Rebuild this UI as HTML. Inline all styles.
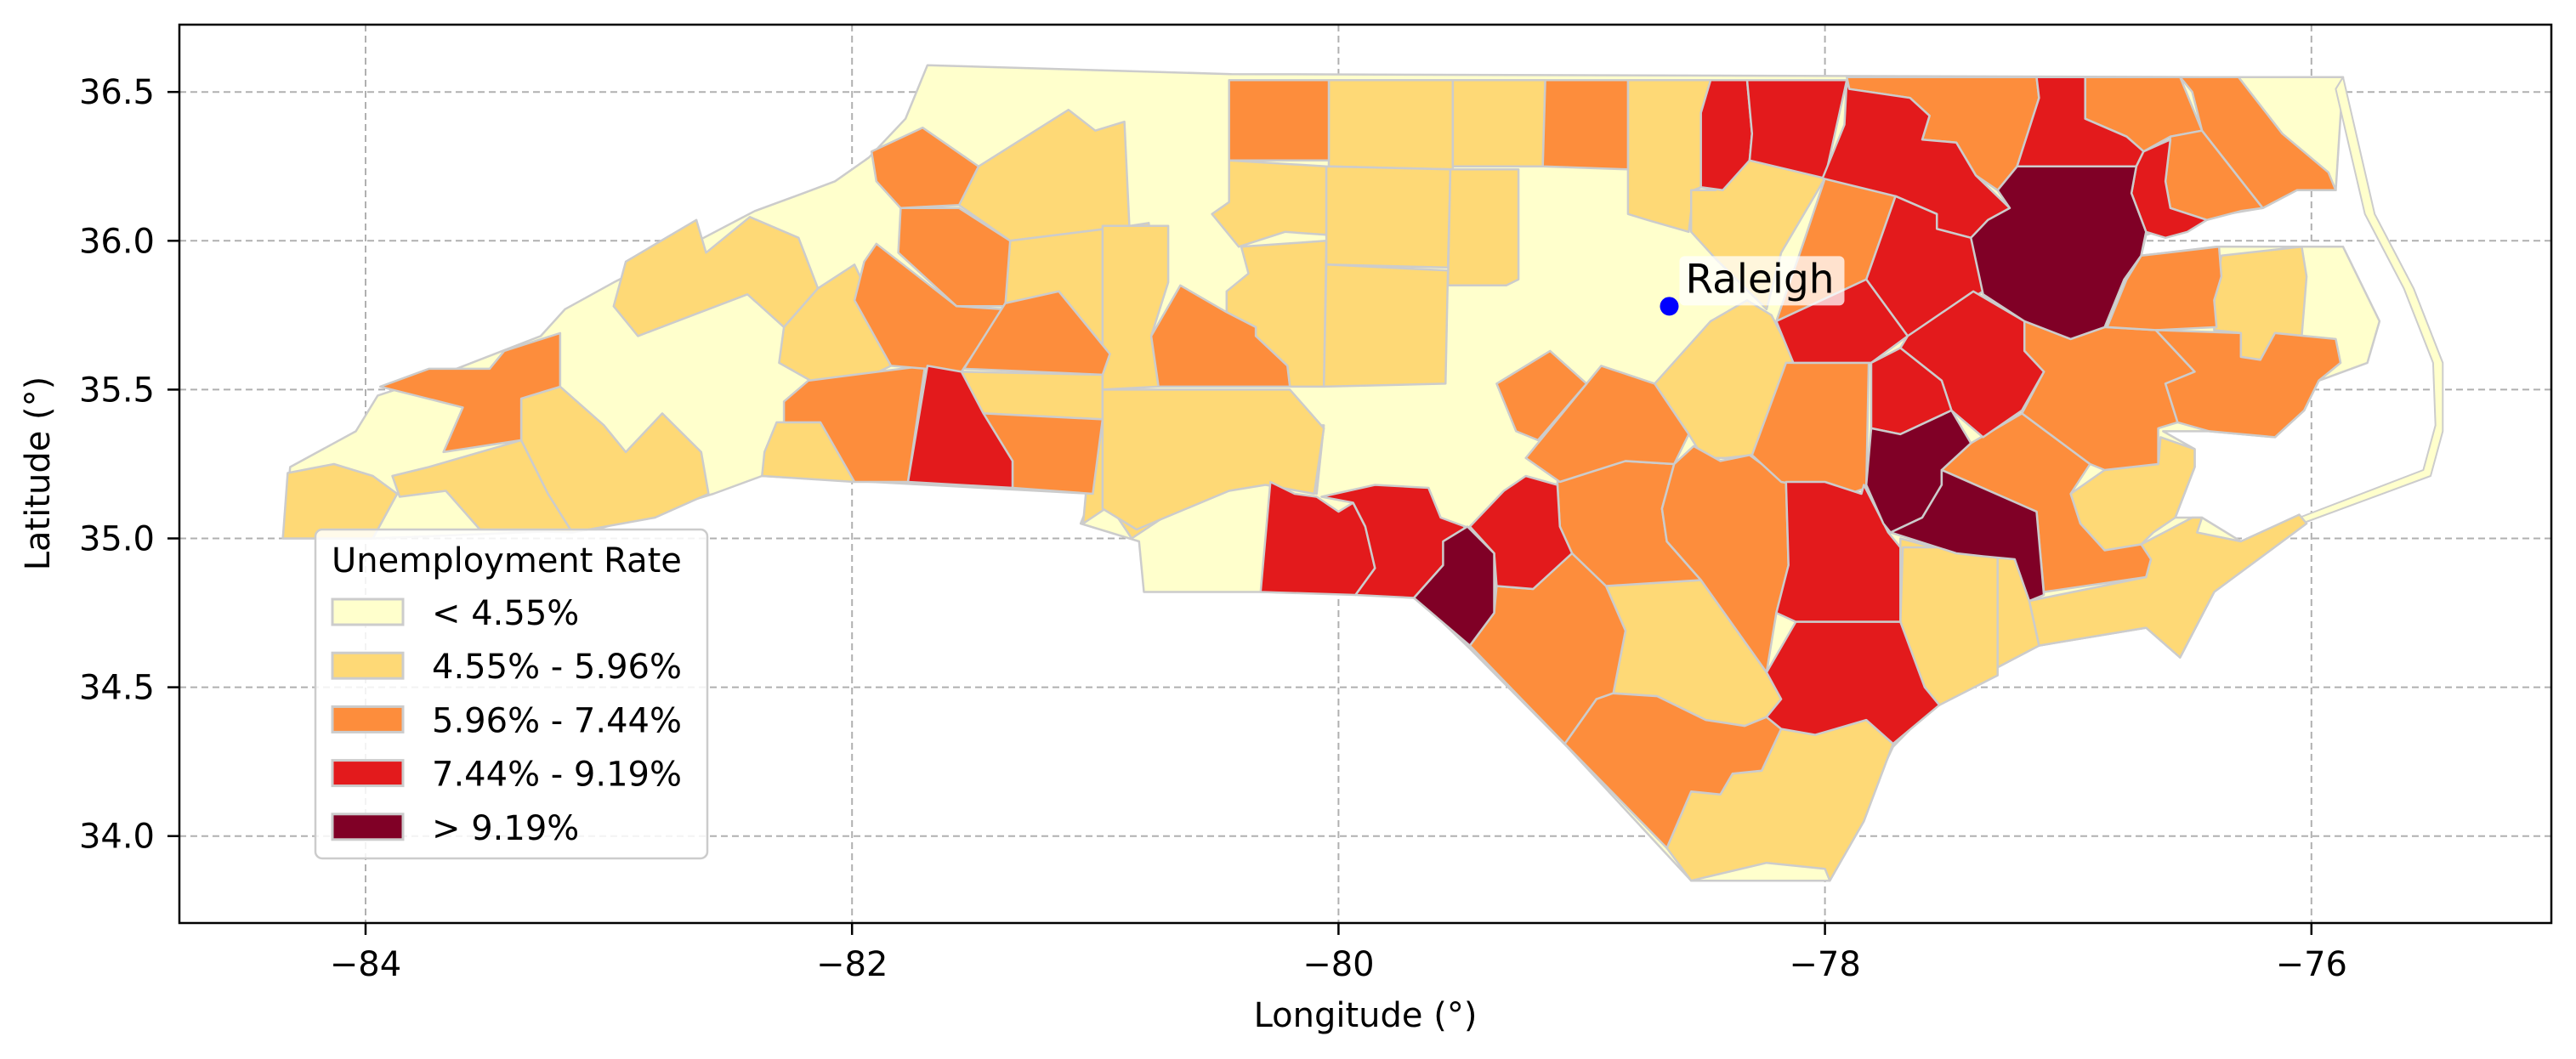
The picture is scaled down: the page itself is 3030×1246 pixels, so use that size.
<!DOCTYPE html>
<html><head><meta charset="utf-8"><style>
html,body{margin:0;padding:0;background:#fff;}
svg{display:block;font-family:"DejaVu Sans","Liberation Sans",sans-serif;}
</style></head><body>
<svg id="chart" width="3030" height="1246" viewBox="0 0 3030 1246" xmlns="http://www.w3.org/2000/svg">
<rect x="0" y="0" width="3030" height="1246" fill="#fff"/>
<g id="grid"></g>
<g id="map"></g>
<g id="overlay"></g>
<rect x="211" y="29" width="2790" height="1057" fill="none" stroke="#000" stroke-width="2.5"/>
<g id="ticks"></g>
<text x="1606" y="1208" font-size="40" text-anchor="middle">Longitude (°)</text>
<text transform="translate(58,557) rotate(-90)" font-size="40" text-anchor="middle">Latitude (°)</text>
<g id="legend"></g>
</svg>
<script>
// ---- data ----
const xTicks = [-84, -82, -80, -78, -76];
const yTicks = [34.0, 34.5, 35.0, 35.5, 36.0, 36.5];
const thresholds = [4.55, 5.96, 7.44, 9.19];
const legendLabels = ["< 4.55%", "4.55% - 5.96%", "5.96% - 7.44%", "7.44% - 9.19%", "> 9.19%"];
const classColors = ["#ffffcc", "#fed976", "#fd8d3c", "#e31a1c", "#800026"];
const cityName = "Raleigh";
const cityLonLat = [-78.64, 35.78];
const stateOutline = [-84.34,35.00,-84.31,35.24,-84.04,35.36,-83.95,35.48,-83.69,35.55,-83.28,35.68,-83.18,35.77,-82.98,35.86,-82.81,35.93,-82.61,36.01,-82.40,36.10,-82.20,36.16,-82.07,36.20,-81.93,36.28,-81.78,36.41,-81.69,36.59,-80.44,36.56,-76.45,36.55,-75.87,36.55,-75.90,36.17,-76.06,36.17,-76.20,36.11,-76.42,36.08,-76.68,36.02,-76.70,35.95,-76.39,35.98,-76.04,35.98,-75.87,35.98,-75.72,35.73,-75.77,35.59,-75.97,35.53,-76.03,35.43,-76.15,35.34,-76.42,35.36,-76.61,35.36,-76.48,35.30,-76.48,35.24,-76.56,35.07,-76.45,35.07,-76.29,34.99,-76.40,34.82,-76.54,34.60,-76.68,34.70,-77.12,34.64,-77.33,34.55,-77.54,34.45,-77.72,34.30,-77.98,33.85,-78.55,33.85,-79.06,34.30,-79.46,34.63,-79.69,34.81,-80.32,34.82,-80.80,34.82,-80.82,34.99,-81.06,35.05,-81.01,35.15,-82.37,35.21,-82.57,35.15,-83.05,35.03,-83.97,35.00];
const outerBanks = [-75.87,36.55,-75.74,36.09,-75.58,35.84,-75.46,35.59,-75.46,35.36,-75.51,35.21,-76.04,35.05,-76.05,35.07,-75.54,35.23,-75.49,35.38,-75.50,35.59,-75.62,35.84,-75.78,36.09,-75.90,36.51];
// county unemployment rates (%) and boundaries (lon,lat pairs)
const countyRates = [
5.2,5.2,6.7,5.2,5.2,5.2,5.2,6.7,8.3,5.2,6.7,6.7,6.7,6.7,6.7,5.2,5.2,
6.7,5.2,5.2,6.7,5.2,8.3,8.3,8.3,6.7,8.3,10.2,8.3,6.7,6.7,6.7,
6.7,8.3,8.3,8.3,8.3,10.2,10.2,6.7,6.7,6.7,5.2,6.7,5.2,5.2,5.2,5.2,
8.3,8.3,5.2,6.7,5.2,6.7,6.7,6.7,6.7,5.2,6.7,6.7,8.3,8.3,10.2,8.3,
5.2,5.2,5.2,5.2,5.2,5.2,5.2,5.2,5.2,5.2
];
const countyShapes = [
[-84.34,35.00,-84.32,35.22,-84.13,35.25,-83.97,35.21,-83.87,35.15,-83.97,35.00],
[-83.74,35.24,-83.36,35.33,-83.25,35.15,-83.15,35.02,-83.53,35.03,-83.67,35.16,-83.86,35.14,-83.89,35.21],
[-83.94,35.51,-83.74,35.57,-83.49,35.57,-83.43,35.63,-83.20,35.69,-83.20,35.51,-83.36,35.47,-83.36,35.33,-83.68,35.29,-83.60,35.44],
[-83.36,35.47,-83.20,35.51,-83.02,35.38,-82.93,35.29,-82.78,35.42,-82.62,35.29,-82.59,35.15,-82.81,35.07,-83.15,35.02,-83.25,35.15,-83.36,35.33],
[-82.98,35.78,-82.93,35.93,-82.64,36.07,-82.60,35.96,-82.42,36.08,-82.22,36.01,-82.14,35.84,-82.28,35.71,-82.43,35.82,-82.88,35.68],
[-82.28,35.71,-82.14,35.84,-81.99,35.92,-81.88,35.73,-81.84,35.58,-81.99,35.52,-82.17,35.53,-82.30,35.59],
[-82.31,35.39,-82.13,35.39,-81.99,35.25,-81.99,35.19,-82.37,35.21,-82.36,35.29],
[-82.28,35.46,-82.18,35.53,-81.99,35.55,-81.70,35.58,-81.77,35.19,-81.99,35.19,-82.13,35.39,-82.28,35.39],
[-81.69,35.58,-81.55,35.56,-81.46,35.42,-81.34,35.26,-81.34,35.17,-81.77,35.19],
[-81.55,35.56,-80.97,35.55,-80.97,35.40,-81.46,35.42],
[-81.46,35.42,-80.97,35.40,-81.01,35.15,-81.34,35.17,-81.34,35.26],
[-81.90,35.99,-81.57,35.78,-81.38,35.77,-81.55,35.56,-81.84,35.58,-81.99,35.80,-81.95,35.93],
[-81.80,36.11,-81.56,36.11,-81.35,36.00,-81.37,35.78,-81.57,35.78,-81.81,35.96],
[-81.92,36.30,-81.71,36.38,-81.48,36.25,-81.56,36.12,-81.80,36.11,-81.90,36.20],
[-81.37,35.79,-81.15,35.83,-80.94,35.62,-80.97,35.55,-81.54,35.57],
[-81.48,36.25,-81.11,36.44,-81.00,36.37,-80.88,36.40,-80.86,36.05,-81.35,36.00,-81.56,36.12],
[-81.35,36.00,-80.86,36.05,-80.78,36.06,-80.75,35.87,-80.85,35.59,-80.94,35.62,-81.15,35.83,-81.37,35.79],
[-80.45,36.54,-80.04,36.54,-80.04,36.27,-80.45,36.27],
[-80.04,36.54,-79.53,36.54,-79.53,36.24,-80.04,36.25],
[-79.53,36.54,-79.15,36.54,-79.16,36.25,-79.53,36.25],
[-79.15,36.54,-78.81,36.54,-78.81,36.24,-79.16,36.25],
[-78.81,36.54,-78.47,36.54,-78.51,36.43,-78.51,36.18,-78.54,36.17,-78.56,36.03,-78.73,36.07,-78.81,36.09],
[-78.47,36.54,-78.32,36.54,-78.30,36.36,-78.31,36.27,-78.42,36.17,-78.51,36.18,-78.51,36.43],
[-78.32,36.54,-77.91,36.54,-78.00,36.21,-78.31,36.27,-78.30,36.36],
[-77.91,36.54,-77.90,36.51,-77.65,36.48,-77.57,36.42,-77.60,36.34,-77.46,36.33,-77.38,36.22,-77.24,36.11,-77.33,36.07,-77.40,36.01,-77.54,36.04,-77.54,36.09,-77.71,36.15,-78.01,36.21,-77.92,36.39],
[-77.91,36.55,-77.13,36.55,-77.12,36.48,-77.21,36.25,-77.29,36.17,-77.38,36.22,-77.46,36.33,-77.60,36.34,-77.57,36.42,-77.65,36.48,-77.90,36.51],
[-77.13,36.55,-76.93,36.55,-76.93,36.41,-76.76,36.35,-76.69,36.30,-76.72,36.25,-77.21,36.25,-77.12,36.48],
[-77.21,36.25,-76.72,36.25,-76.74,36.16,-76.68,36.03,-76.70,35.95,-76.77,35.87,-76.85,35.71,-76.99,35.67,-77.18,35.73,-77.35,35.82,-77.40,36.01,-77.33,36.07,-77.24,36.11,-77.29,36.17],
[-76.69,36.30,-76.58,36.34,-76.60,36.20,-76.58,36.11,-76.43,36.07,-76.51,36.03,-76.60,36.01,-76.68,36.03,-76.74,36.16,-76.72,36.25],
[-76.93,36.55,-76.54,36.55,-76.45,36.37,-76.58,36.35,-76.69,36.30,-76.76,36.35,-76.93,36.41],
[-76.58,36.35,-76.45,36.37,-76.20,36.11,-76.29,36.10,-76.43,36.07,-76.58,36.11,-76.60,36.20],
[-76.54,36.55,-76.30,36.55,-76.12,36.36,-75.93,36.23,-75.90,36.17,-76.06,36.17,-76.20,36.11,-76.45,36.37,-76.49,36.50],
[-78.00,36.21,-77.71,36.15,-77.83,35.87,-78.20,35.73,-78.09,35.99],
[-77.71,36.15,-77.54,36.09,-77.54,36.04,-77.40,36.01,-77.35,35.93,-77.35,35.83,-77.66,35.68,-77.83,35.87],
[-77.83,35.87,-77.66,35.68,-77.81,35.59,-78.13,35.59,-78.20,35.73],
[-77.66,35.68,-77.39,35.83,-77.18,35.73,-77.18,35.63,-77.10,35.56,-77.19,35.43,-77.35,35.34,-77.48,35.43,-77.52,35.53,-77.69,35.64],
[-77.81,35.59,-77.69,35.64,-77.52,35.53,-77.48,35.43,-77.69,35.35,-77.81,35.37],
[-77.81,35.37,-77.69,35.35,-77.48,35.43,-77.40,35.32,-77.52,35.23,-77.52,35.18,-77.60,35.07,-77.73,35.02,-77.76,35.05,-77.83,35.18],
[-77.52,35.23,-77.13,35.09,-77.10,34.81,-77.16,34.79,-77.22,34.93,-77.35,34.94,-77.46,34.95,-77.73,35.02,-77.60,35.07,-77.52,35.18],
[-77.40,35.32,-77.19,35.42,-76.91,35.25,-76.99,35.15,-76.95,35.05,-76.85,34.96,-76.70,34.98,-76.66,34.93,-76.68,34.87,-77.10,34.82,-77.13,35.09,-77.52,35.23],
[-77.18,35.73,-76.99,35.67,-76.85,35.71,-76.64,35.70,-76.48,35.56,-76.60,35.52,-76.55,35.39,-76.63,35.37,-76.63,35.25,-76.85,35.23,-76.91,35.25,-77.19,35.42,-77.10,35.56,-77.18,35.63],
[-76.84,35.71,-76.76,35.87,-76.70,35.95,-76.38,35.98,-76.37,35.88,-76.40,35.80,-76.39,35.71,-76.64,35.70],
[-76.37,35.95,-76.04,35.98,-76.02,35.88,-76.04,35.68,-76.15,35.69,-76.21,35.60,-76.29,35.61,-76.29,35.69,-76.40,35.70,-76.40,35.80],
[-76.64,35.70,-76.29,35.69,-76.29,35.61,-76.21,35.60,-76.15,35.69,-75.90,35.67,-75.88,35.59,-75.97,35.53,-76.03,35.43,-76.15,35.34,-76.42,35.36,-76.55,35.39,-76.60,35.52,-76.48,35.56],
[-76.99,35.15,-76.85,35.23,-76.63,35.25,-76.62,35.34,-76.48,35.30,-76.48,35.24,-76.56,35.07,-76.65,35.02,-76.70,34.98,-76.85,34.96,-76.95,35.05],
[-77.16,34.79,-76.68,34.87,-76.66,34.93,-76.70,34.98,-76.49,35.07,-76.45,35.07,-76.47,35.02,-76.29,34.99,-76.05,35.08,-76.02,35.05,-76.40,34.82,-76.54,34.60,-76.68,34.70,-77.12,34.64],
[-77.69,35.00,-77.46,34.95,-77.35,34.94,-77.22,34.93,-77.16,34.79,-77.12,34.64,-77.33,34.55,-77.54,34.45,-77.63,34.64,-77.69,34.73],
[-77.68,34.97,-77.29,34.97,-77.29,34.54,-77.53,34.44,-77.59,34.50,-77.69,34.72],
[-78.16,35.19,-78.00,35.19,-77.85,35.15,-77.84,35.18,-77.74,35.02,-77.69,34.97,-77.69,34.72,-78.12,34.72,-78.20,34.75,-78.15,34.91],
[-78.12,34.72,-77.69,34.72,-77.59,34.50,-77.53,34.44,-77.72,34.31,-77.83,34.39,-78.04,34.34,-78.18,34.36,-78.24,34.40,-78.18,34.46,-78.24,34.55],
[-78.18,34.36,-78.04,34.34,-77.83,34.39,-77.72,34.31,-77.84,34.05,-77.98,33.85,-78.00,33.89,-78.24,33.91,-78.55,33.85,-78.65,33.96,-78.55,34.15,-78.43,34.14,-78.38,34.21,-78.26,34.22],
[-79.07,34.31,-78.94,34.46,-78.88,34.48,-78.69,34.47,-78.49,34.39,-78.33,34.37,-78.24,34.40,-78.18,34.36,-78.26,34.22,-78.38,34.21,-78.43,34.14,-78.55,34.15,-78.65,33.96],
[-78.90,34.84,-78.51,34.86,-78.24,34.55,-78.18,34.46,-78.24,34.40,-78.33,34.37,-78.49,34.39,-78.69,34.47,-78.87,34.48,-78.82,34.69],
[-79.46,34.64,-79.36,34.75,-79.35,34.84,-79.20,34.83,-79.04,34.95,-78.90,34.84,-78.82,34.69,-78.87,34.48,-78.94,34.46,-79.07,34.31],
[-79.10,35.19,-78.83,35.26,-78.62,35.25,-78.67,35.10,-78.65,34.99,-78.51,34.86,-78.90,34.84,-79.04,34.95,-79.09,35.04],
[-78.62,35.25,-78.54,35.31,-78.43,35.26,-78.31,35.28,-78.16,35.19,-78.15,34.91,-78.20,34.75,-78.24,34.55,-78.51,34.86,-78.65,34.99,-78.67,35.10],
[-78.30,35.28,-78.16,35.59,-77.82,35.59,-77.83,35.17,-77.90,35.15,-78.18,35.19],
[-78.70,35.52,-78.47,35.73,-78.32,35.80,-78.22,35.75,-78.12,35.59,-78.16,35.35,-78.30,35.28,-78.41,35.27,-78.50,35.27,-78.56,35.35],
[-79.23,35.27,-78.98,35.52,-78.92,35.58,-78.70,35.52,-78.56,35.35,-78.62,35.25,-78.82,35.26,-79.09,35.19],
[-79.35,35.52,-79.13,35.63,-78.98,35.52,-79.18,35.33,-79.27,35.36],
[-80.32,34.82,-80.28,35.19,-80.18,35.15,-80.09,35.14,-80.00,35.09,-79.94,35.12,-79.89,35.04,-79.85,34.90,-79.93,34.81],
[-79.93,34.81,-79.85,34.90,-79.89,35.04,-79.94,35.12,-80.07,35.14,-79.85,35.18,-79.63,35.17,-79.58,35.07,-79.48,35.04,-79.57,34.91,-79.69,34.80],
[-79.69,34.80,-79.57,34.91,-79.57,34.99,-79.47,35.04,-79.36,34.95,-79.36,34.75,-79.46,34.64],
[-79.46,35.04,-79.32,35.16,-79.23,35.21,-79.10,35.18,-79.09,35.04,-79.04,34.95,-79.20,34.83,-79.35,34.84,-79.36,34.95],
[-81.04,35.14,-81.02,35.38,-80.40,35.38,-80.50,35.19,-80.85,35.00,-80.94,35.11,-81.05,35.05],
[-80.50,35.19,-80.40,35.38,-80.06,35.38,-80.09,35.15,-80.28,35.19,-80.47,35.16],
[-80.97,35.50,-80.20,35.50,-80.06,35.37,-80.10,35.15,-80.30,35.18,-80.45,35.16,-80.83,35.03,-80.97,35.10],
[-80.97,36.05,-80.70,36.05,-80.70,35.86,-80.77,35.68,-80.74,35.51,-80.97,35.50],
[-80.45,36.27,-80.05,36.25,-80.05,36.02,-80.22,36.03,-80.41,35.98,-80.52,36.09,-80.45,36.13],
[-80.40,35.98,-80.05,36.00,-80.06,35.51,-80.20,35.51,-80.21,35.58,-80.34,35.68,-80.34,35.71,-80.46,35.76,-80.46,35.83,-80.37,35.89],
[-80.05,36.25,-79.54,36.24,-79.55,35.91,-80.05,35.92],
[-80.05,35.92,-79.55,35.90,-79.56,35.52,-80.06,35.51],
[-79.54,36.24,-79.26,36.24,-79.26,35.87,-79.31,35.85,-79.55,35.85],
[-78.55,36.17,-78.45,36.17,-78.31,36.27,-78.00,36.21,-78.18,35.96,-78.24,35.77,-78.45,35.94,-78.55,36.03]
];
const davidsonShape = [-80.65,35.85,-80.46,35.76,-80.34,35.71,-80.34,35.68,-80.21,35.58,-80.20,35.51,-80.74,35.51,-80.77,35.68];
const davidsonRate = 6.7;

// ---- axes ----
const X0 = 430, XS = 286.1, Y0 = 108.2, YS = 350.2;
function xPos(lon){ return X0 + (lon + 84) * XS; }
function yPos(lat){ return Y0 + (36.5 - lat) * YS; }
function classOf(r){ let c = 0; for (const t of thresholds) if (r >= t) c++; return c; }
function pts(arr){ let s=[]; for(let i=0;i<arr.length;i+=2) s.push(xPos(arr[i]).toFixed(1)+","+yPos(arr[i+1]).toFixed(1)); return s.join(" "); }
const NS = "http://www.w3.org/2000/svg";
function mk(tag, attrs, parent){ const e=document.createElementNS(NS,tag); for(const k in attrs) e.setAttribute(k,attrs[k]); parent.appendChild(e); return e; }

const grid = document.getElementById("grid");
xTicks.forEach(v => {
  const l = mk("line",{x1:xPos(v),x2:xPos(v),y1:29,y2:1086,stroke:"#b0b0b0","stroke-width":2,"stroke-dasharray":"8,5"},grid);
  
  
});
yTicks.forEach(v => {
  const l = mk("line",{x1:211,x2:3001,y1:yPos(v),y2:yPos(v),stroke:"#b0b0b0","stroke-width":2,"stroke-dasharray":"8,5"},grid);
  
  
});

const map = document.getElementById("map");
const st = mk("polygon",{points:pts(stateOutline),fill:classColors[0],stroke:"#cccccc","stroke-width":2.5,"stroke-linejoin":"round"},map);


const ob = mk("polygon",{points:pts(outerBanks),fill:"#ffffcc",stroke:"#cccccc","stroke-width":2,"stroke-linejoin":"round"},map);



let items = countyShapes.map((s,i)=>({s:s,r:countyRates[i]}));
items.push({s:davidsonShape,r:davidsonRate});
items = items.map((o,i)=>({s:o.s,r:o.r,c:classOf(o.r),i:i})).sort((a,b)=>a.c-b.c||a.i-b.i);
items.forEach(o => {
  const p = mk("polygon",{points:pts(o.s),fill:classColors[o.c],stroke:"#cccccc","stroke-width":2.5,"stroke-linejoin":"round"},map);
  
  
});

// Raleigh marker
const ov = document.getElementById("overlay");
const cx = xPos(cityLonLat[0]), cy = yPos(cityLonLat[1]);
const lb = mk("rect",{x:cx+12,y:cy-59,width:194,height:58,rx:6,fill:"#fff","fill-opacity":0.75},ov);


const dot = mk("circle",{cx:cx,cy:cy,r:11,fill:"#0000ff"},ov);


const tl = mk("text",{x:cx+19,y:cy-16,"font-size":47,fill:"#000"},ov);
tl.textContent = cityName;



// ticks
const tk = document.getElementById("ticks");
xTicks.forEach(v => {
  const l = mk("line",{x1:xPos(v),x2:xPos(v),y1:1086,y2:1100,stroke:"#000","stroke-width":2.5},tk);
  
  
  const t = mk("text",{x:xPos(v),y:1148,"font-size":40,"text-anchor":"middle"},tk);
  t.textContent = "\u2212" + Math.abs(v);
  
  
});
yTicks.forEach(v => {
  const l = mk("line",{x1:197,x2:211,y1:yPos(v),y2:yPos(v),stroke:"#000","stroke-width":2.5},tk);
  
  
  const t = mk("text",{x:182,y:yPos(v)+14,"font-size":40,"text-anchor":"end"},tk);
  t.textContent = v.toFixed(1);
  
  
});

// legend
const lg = document.getElementById("legend");
const box = mk("rect",{x:371,y:623,width:461,height:387,rx:8,fill:"#fff","fill-opacity":0.85,stroke:"#cccccc","stroke-width":2.5},lg);


const ttl = mk("text",{x:390,y:673,"font-size":40},lg);
ttl.textContent = "Unemployment Rate";


legendLabels.forEach((lab,i) => {
  const yc = 720 + i*63.2;
  const r = mk("rect",{x:391,y:yc-15,width:83,height:30,fill:classColors[i],stroke:"#cccccc","stroke-width":3},lg);
  
  
  const t = mk("text",{x:508,y:yc+15,"font-size":40},lg);
  t.textContent = lab;
  
  
});
</script>
</body></html>
